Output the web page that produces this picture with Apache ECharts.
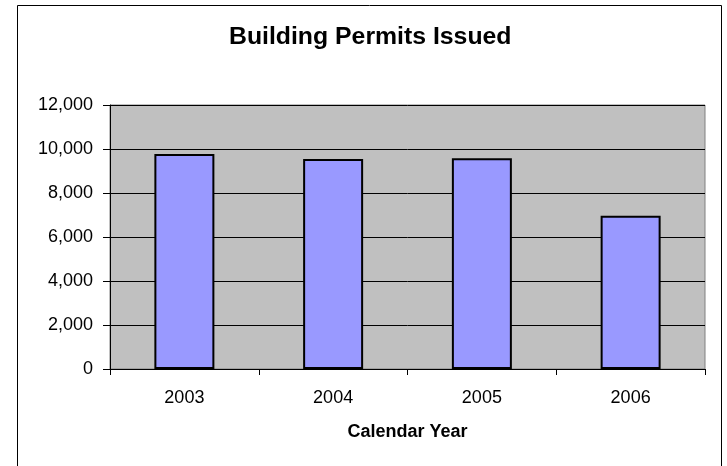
<!DOCTYPE html>
<html>
<head>
<meta charset="utf-8">
<script src="https://cdn.jsdelivr.net/npm/echarts@6/dist/echarts.min.js"></script>
<style>
html,body{margin:0;padding:0;background:#fff}
#main{width:727px;height:466px}
</style>
</head>
<body>
<div id="main"></div>
<script>
var years = ['2003', '2004', '2005', '2006']
var permits = [9770, 9550, 9580, 6970]
var yTicks = [0, 2000, 4000, 6000, 8000, 10000, 12000]

var myChart = echarts.init(document.getElementById('main'))
var font = '"Liberation Sans", Arial, sans-serif'

var option = {
    animation: false,
    backgroundColor: '#fff',
    title: {
        text: 'Building Permits Issued',
        left: 229,
        top: 25,
        padding: 0,
        textStyle: {fontFamily: font, fontSize: 24.8, fontWeight: 'bold', color: '#000'}
    },
    graphic: [{
        type: 'rect',
        shape: {x: 17.5, y: 5.5, width: 704, height: 480},
        style: {fill: 'none', stroke: '#000', lineWidth: 1}
    }],
    grid: {
        left: 110, right: 22, top: 105, bottom: 97,
        show: true,
        backgroundColor: '#c0c0c0',
        borderColor: '#808080',
        borderWidth: 1
    },
    xAxis: {
        type: 'category',
        data: years,
        name: 'Calendar Year',
        nameLocation: 'middle',
        nameGap: 54,
        nameTextStyle: {fontFamily: font, fontSize: 18, fontWeight: 'bold', color: '#000'},
        axisLine: {lineStyle: {color: '#000', width: 1}},
        axisTick: {show: true, length: 6, lineStyle: {color: '#000'}},
        axisLabel: {fontFamily: font, fontSize: 18, color: '#000', margin: 20}
    },
    yAxis: {
        type: 'value',
        min: yTicks[0],
        max: yTicks[yTicks.length - 1],
        interval: 2000,
        axisLine: {show: true, lineStyle: {color: '#000', width: 1}},
        axisTick: {show: true, length: 7, lineStyle: {color: '#000'}},
        axisLabel: {
            fontFamily: font, fontSize: 18, color: '#000', margin: 17,
            formatter: function (v) { return v.toLocaleString('en-US') }
        },
        splitLine: {show: true, lineStyle: {color: '#000', width: 1}}
    },
    series: [{
        name: 'Permits',
        type: 'bar',
        data: permits,
        barWidth: 60,
        itemStyle: {color: '#9999ff', borderColor: '#000', borderWidth: 2}
    }]
}
myChart.setOption(option)
</script>
</body>
</html>
